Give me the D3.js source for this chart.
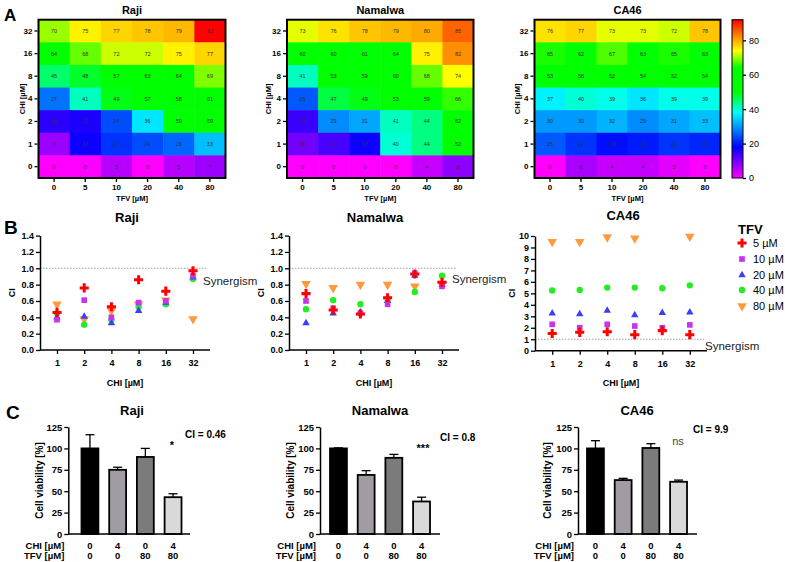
<!DOCTYPE html>
<html><head><meta charset="utf-8">
<script src="https://cdn.jsdelivr.net/npm/d3@7"></script>
<style>body{margin:0;background:#fff} svg{display:block;font-family:Arial,"Liberation Sans",sans-serif}</style>
</head><body><svg id="c" width="785" height="562"></svg>
<script>
// ---------- DATA ----------
const tfvLevels = ["0","5","10","20","40","80"];
const chiLevels = ["32","16","8","4","2","1","0"]; // top to bottom
const rajiHeat = [[70,75,77,78,79,92],[64,68,72,72,75,77],[45,48,57,63,64,69],[27,41,49,57,58,61],[15,16,24,36,50,59],[7,17,22,24,26,33],[0,0,5,0,5,7]];
const namalwaHeat = [[73,76,78,79,80,85],[60,60,61,64,75,82],[41,53,59,60,68,74],[25,47,49,53,59,66],[14,29,31,41,44,62],[10,13,17,40,44,52],[0,0,0,0,4,8]];
const ca46Heat = [[76,77,73,73,72,78],[65,62,67,63,65,63],[53,56,52,54,52,54],[37,40,39,36,39,39],[30,30,32,29,31,33],[25,22,19,20,22,21],[0,6,4,4,2,0]];
const colorTicks = [0,20,40,60,80];

const ciChi = ["1","2","4","8","16","32"];
const tfvSeries = ["5 µM","10 µM","20 µM","40 µM","80 µM"];
const rajiCI = [
  [0.46,0.76,0.53,0.86,0.72,0.97],
  [0.37,0.61,0.40,0.58,0.60,0.91],
  [0.40,0.41,0.33,0.48,0.58,0.89],
  [0.45,0.31,0.37,0.53,0.56,0.87],
  [0.56,0.38,0.48,0.56,0.61,0.38]
];
const namalwaCI = [
  [0.69,0.49,0.44,0.64,0.93,0.83],
  [0.60,0.51,0.45,0.56,0.94,0.78],
  [0.33,0.45,0.46,0.60,0.91,0.80],
  [0.50,0.61,0.56,0.62,0.71,0.91],
  [0.81,0.76,0.80,0.80,0.78,0.80]
];
const ca46CI = [
  [1.5,1.6,1.65,1.4,1.75,1.4],
  [2.3,2.0,2.3,2.15,2.0,2.25],
  [3.25,3.2,3.5,3.1,3.3,3.35],
  [5.25,5.3,5.5,5.5,5.45,5.7],
  [9.5,9.5,9.9,9.8,null,9.95]
];
const rajiTicks = [0,0.2,0.4,0.6,0.8,1.0,1.2,1.4];
const ca46Ticks = [0,1,2,3,4,5,6,7,8,9,10];

const barChi = ["0","4","0","4"];
const barTfv = ["0","0","80","80"];
const rajiViab = [100,75,90,43];
const rajiErr = [16,3,10,4];
const namalwaViab = [100,69,89,38];
const namalwaErr = [0.6,5,4,5];
const ca46Viab = [100,63,100.5,61];
const ca46Err = [9,2,5,2];
const viabTicks = [0,25,50,75,100,125];

// ---------- DRAW ----------
const svg = d3.select("#c");
const heatColor = d3.scaleLinear()
  .domain([0,18,38,50,64,74,92])
  .range(['#ff00ff','#0000ff','#00ffff','#00ff00','#00ff00','#ffff00','#ff0000'])
  .clamp(true);

function panelLetter(t,x,y,size){
  svg.append("text").attr("x",x).attr("y",y).attr("font-size",size).attr("font-weight","bold").text(t);
}
panelLetter("A",4,21,17);
panelLetter("B",4,234,19);
panelLetter("C",6,419,19);

function styleAxis(g,size,weight){
  g.selectAll("text").attr("font-size",size).attr("font-weight",weight).attr("fill","#000")
    .attr("font-family","Arial, 'Liberation Sans', sans-serif");
  g.selectAll("line").attr("stroke","#000").attr("stroke-width",1.3);
  g.select(".domain").attr("stroke","#000").attr("stroke-width",1.5);
}

const hTop = 19.7, hBot = 178;
function heatmap(x0,x1,data,title,yLabX){
  const xs = d3.scaleBand().domain(tfvLevels).range([x0,x1]);
  const ys = d3.scaleBand().domain(chiLevels).range([hTop,hBot]);
  const g = svg.append("g");
  data.forEach((row,ri)=>{
    row.forEach((v,ci)=>{
      g.append("rect").attr("x",xs(tfvLevels[ci])).attr("y",ys(chiLevels[ri]))
        .attr("width",xs.bandwidth()+0.5).attr("height",ys.bandwidth()+0.5).attr("fill",heatColor(v));
      g.append("text").attr("x",xs(tfvLevels[ci])+xs.bandwidth()/2).attr("y",ys(chiLevels[ri])+ys.bandwidth()/2+2)
        .attr("text-anchor","middle").attr("font-size",5.5).attr("fill","#333").text(v);
    });
  });
  g.append("rect").attr("x",x0).attr("y",hTop).attr("width",x1-x0).attr("height",hBot-hTop)
    .attr("fill","none").attr("stroke","#000").attr("stroke-width",2);
  const ay = svg.append("g").attr("transform",`translate(${x0-1},0)`).call(d3.axisLeft(ys).tickSize(3).tickPadding(2));
  ay.select(".domain").remove(); styleAxis(ay,8,"bold");
  const ax = svg.append("g").attr("transform",`translate(0,${hBot+1})`).call(d3.axisBottom(xs).tickSize(3).tickPadding(2));
  ax.select(".domain").remove(); styleAxis(ax,8,"bold");
  svg.append("text").attr("x",(x0+x1)/2).attr("y",14).attr("text-anchor","middle")
    .attr("font-size",11).attr("font-weight","bold").text(title);
  svg.append("text").attr("x",(x0+x1)/2).attr("y",201).attr("text-anchor","middle")
    .attr("font-size",7.5).attr("font-weight","bold").text("TFV  [µM]");
  svg.append("text").attr("transform",`translate(${yLabX},${(hTop+hBot)/2}) rotate(-90)`)
    .attr("text-anchor","middle").attr("font-size",7.5).attr("font-weight","bold").text("CHI  [µM]");
}
heatmap(38.5,225.5,rajiHeat,"Raji",25);
heatmap(287,473.5,namalwaHeat,"Namalwa",271);
heatmap(534.5,720.5,ca46Heat,"CA46",520);

// colorbar
const cbScale = d3.scaleLinear().domain([0,92]).range([hBot,hTop]);
const grad = svg.append("defs").append("linearGradient").attr("id","cbg")
  .attr("x1","0").attr("y1","1").attr("x2","0").attr("y2","0");
d3.range(0,93,2).forEach(v=>grad.append("stop").attr("offset",v/92).attr("stop-color",heatColor(v)));
svg.append("rect").attr("x",732).attr("y",hTop).attr("width",11).attr("height",hBot-hTop)
  .attr("fill","url(#cbg)").attr("stroke","#000").attr("stroke-width",1);
const cba = svg.append("g").attr("transform","translate(743,0)").call(d3.axisRight(cbScale).tickValues(colorTicks).tickSize(3).tickPadding(3));
cba.select(".domain").remove(); styleAxis(cba,9,"normal");

// ---------- scatter ----------
const symColors = ['#ff0000','#c832f0','#3c3cff','#22ee22','#ff9a3c'];
const symTypes = [d3.symbolCross,d3.symbolSquare,d3.symbolTriangle,d3.symbolCircle,d3.symbolTriangle];
const symSizes = [46,32,24,32,40];
function sym(i){ return d3.symbol().type(symTypes[i]).size(symSizes[i])(); }

function scatter(ax0,ax1,yDomain,yRange,ticks,fmt,data,title,titleX,titleY,synX,synY,yLabX){
  const xs = d3.scalePoint().domain(ciChi).range([ax0,ax1]).padding(0.625);
  const ys = d3.scaleLinear().domain(yDomain).range(yRange);
  svg.append("line").attr("x1",ax0).attr("x2",ax1-3).attr("y1",ys(1)).attr("y2",ys(1))
    .attr("stroke","#888").attr("stroke-width",0.8).attr("stroke-dasharray","1.5,1.5");
  const gy = svg.append("g").attr("transform",`translate(${ax0},0)`).call(d3.axisLeft(ys).tickValues(ticks).tickFormat(fmt).tickSize(4).tickPadding(2).tickSizeOuter(0));
  styleAxis(gy,9,"bold");
  const gx = svg.append("g").attr("transform",`translate(0,${yRange[0]})`);
  gx.append("line").attr("x1",ax0).attr("x2",ax1).attr("stroke","#000").attr("stroke-width",1.5);
  const gxa = gx.append("g").call(d3.axisBottom(xs).tickSize(4).tickPadding(6));
  gxa.select(".domain").remove(); styleAxis(gxa,9,"bold");
  for(let s=4;s>=0;s--){
    data[s].forEach((v,i)=>{
      if(v==null) return;
      svg.append("path").attr("d",sym(s)).attr("fill",symColors[s])
        .attr("transform",`translate(${xs(ciChi[i])},${ys(v)})${s===4?" rotate(180)":""}`);
    });
  }
  svg.append("text").attr("x",titleX).attr("y",titleY).attr("text-anchor","middle")
    .attr("font-size",13).attr("font-weight","bold").text(title);
  svg.append("text").attr("x",synX).attr("y",synY).attr("font-size",11.5).attr("fill","#222").text("Synergism");
  svg.append("text").attr("transform",`translate(${yLabX},${(yRange[0]+yRange[1])/2}) rotate(-90)`)
    .attr("text-anchor","middle").attr("font-size",9).attr("font-weight","bold").text("CI");
  svg.append("text").attr("x",(ax0+ax1)/2).attr("y",386).attr("text-anchor","middle")
    .attr("font-size",9).attr("font-weight","bold").text("CHI  [µM]");
}
scatter(40,210,[0,1.4],[350,235.6],rajiTicks,d3.format(".1f"),rajiCI,"Raji",127,222,203,285,15);
scatter(289,459,[0,1.4],[350,235.6],rajiTicks,d3.format(".1f"),namalwaCI,"Namalwa",375,222,452,283,264);
scatter(535,707,[0,10],[350.7,236],ca46Ticks,d3.format("d"),ca46CI,"CA46",623,220,705,350,515);

// legend
svg.append("text").attr("x",738).attr("y",234).attr("font-size",13).attr("font-weight","bold").text("TFV");
[243,259,275,290,306].forEach((y,i)=>{
  svg.append("path").attr("d",sym(i)).attr("fill",symColors[i])
    .attr("transform",`translate(742,${y})${i===4?" rotate(180)":""}`);
  svg.append("text").attr("x",753).attr("y",y+4).attr("font-size",11).text(tfvSeries[i]);
});

// ---------- bars ----------
const barFills = ['#000000','#a19ca3','#7b7b7b','#d9d9d9'];
const by = d3.scaleLinear().domain([0,125]).range([534,427]);
function bars(axX,axEnd,b0,b1,vals,errs,title,titleX,ciText,ciX,ciY,sig,sigX,sigY,sigStyle,yLabX){
  const xs = d3.scaleBand().domain(d3.range(4)).range([b0,b1]).paddingInner(0.39).paddingOuter(0);
  vals.forEach((v,i)=>{
    const cx = xs(i)+xs.bandwidth()/2;
    svg.append("line").attr("x1",cx).attr("x2",cx).attr("y1",by(v)).attr("y2",by(v+errs[i])).attr("stroke","#000").attr("stroke-width",1.3);
    svg.append("line").attr("x1",cx-4.5).attr("x2",cx+4.5).attr("y1",by(v+errs[i])).attr("y2",by(v+errs[i])).attr("stroke","#000").attr("stroke-width",1.3);
    svg.append("rect").attr("x",xs(i)).attr("y",by(v)).attr("width",xs.bandwidth()).attr("height",by(0)-by(v))
      .attr("fill",barFills[i]).attr("stroke","#000").attr("stroke-width",1.8);
    svg.append("text").attr("x",cx).attr("y",548.5).attr("text-anchor","middle").attr("font-size",9.5).attr("font-weight","bold").text(barChi[i]);
    svg.append("text").attr("x",cx).attr("y",558.5).attr("text-anchor","middle").attr("font-size",9.5).attr("font-weight","bold").text(barTfv[i]);
  });
  const gy = svg.append("g").attr("transform",`translate(${axX},0)`).call(d3.axisLeft(by).tickValues(viabTicks).tickSize(4).tickPadding(2).tickSizeOuter(0));
  styleAxis(gy,9.5,"bold");
  svg.append("line").attr("x1",axX).attr("x2",axEnd).attr("y1",by(0)).attr("y2",by(0)).attr("stroke","#000").attr("stroke-width",1.5);
  svg.append("text").attr("x",axX-4).attr("y",548.5).attr("text-anchor","end").attr("font-size",9.5).attr("font-weight","bold").text("CHI [µM]");
  svg.append("text").attr("x",axX-4).attr("y",558.5).attr("text-anchor","end").attr("font-size",9.5).attr("font-weight","bold").text("TFV [µM]");
  svg.append("text").attr("x",titleX).attr("y",415).attr("text-anchor","middle").attr("font-size",13).attr("font-weight","bold").text(title);
  svg.append("text").attr("x",ciX).attr("y",ciY).attr("font-size",10).attr("font-weight","bold").text(ciText);
  const st = svg.append("text").attr("x",sigX).attr("y",sigY).attr("text-anchor","middle").text(sig);
  if(sigStyle==="ns") st.attr("font-size",11).attr("fill","#444"); else st.attr("font-size",11).attr("font-weight","bold");
  svg.append("text").attr("transform",`translate(${yLabX},${(by(0)+by(125))/2}) rotate(-90)`)
    .attr("text-anchor","middle").attr("font-size",10).attr("font-weight","bold").text("Cell viability [%]");
}
bars(68.3,190,81.5,181.5,rajiViab,rajiErr,"Raji",132,"CI = 0.46",185,438,"*",172,449,"b",43);
bars(320,440,330,430,namalwaViab,namalwaErr,"Namalwa",380,"CI = 0.8",440,441,"***",423,452,"b",294);
bars(578,697,587,687,ca46Viab,ca46Err,"CA46",637,"CI = 9.9",693,433,"ns",678,445,"ns",551);
</script></body></html>
